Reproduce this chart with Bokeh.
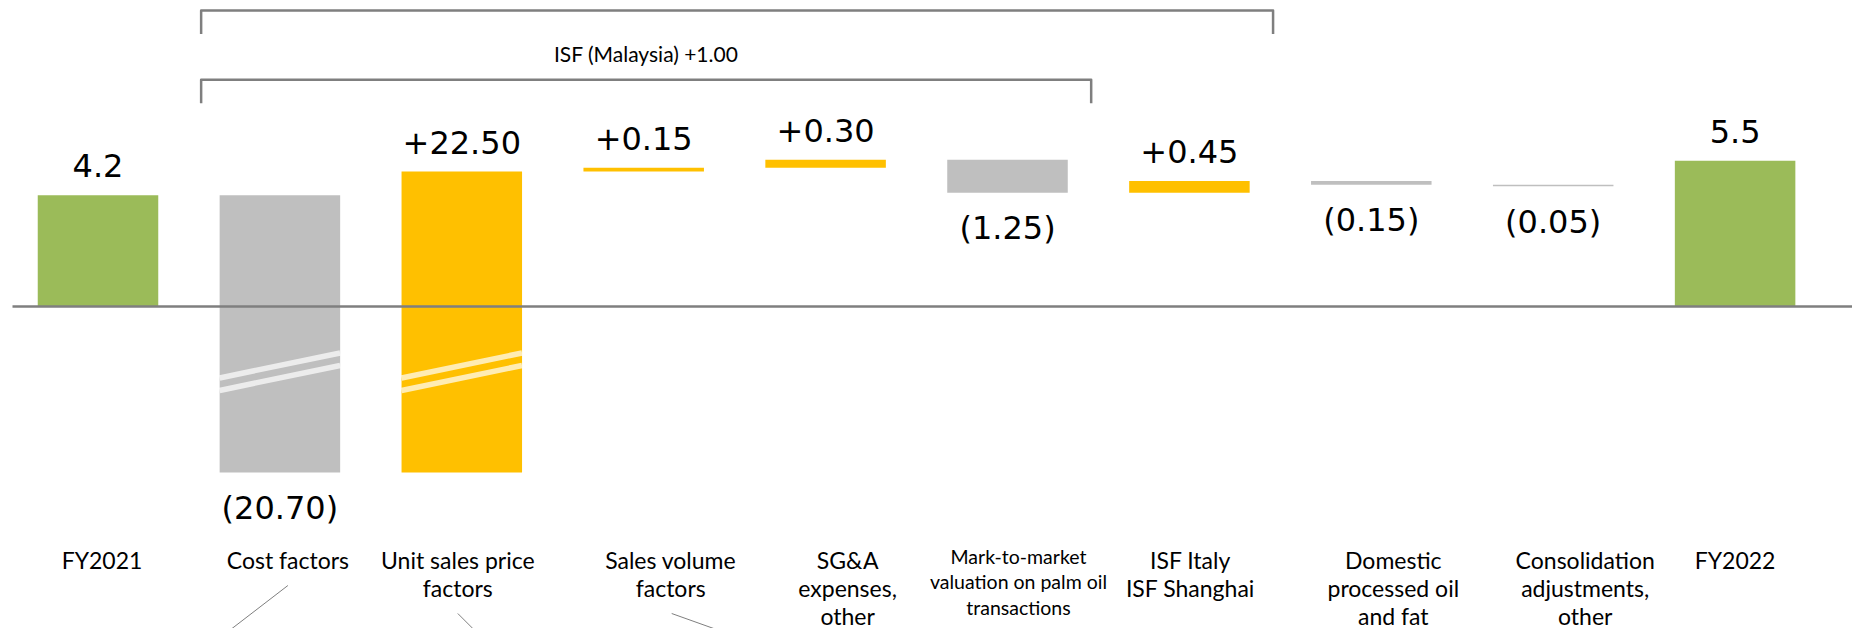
from bokeh.plotting import figure
from bokeh.models import ColumnDataSource, Range1d
from bokeh.embed import file_html
from bokeh.resources import INLINE
from bokeh.core.properties import value

# ---------------- data ----------------
categories = [
    "FY2021",
    "Cost factors",
    "Unit sales price\nfactors",
    "Sales volume\nfactors",
    "SG&A\nexpenses,\nother",
    "Mark-to-market\nvaluation on palm oil\ntransactions",
    "ISF Italy\nISF Shanghai",
    "Domestic\nprocessed oil\nand fat",
    "Consolidation\nadjustments,\nother",
    "FY2022",
]
values = [4.2, -20.70, 22.50, 0.15, 0.30, -1.25, 0.45, -0.15, -0.05, 5.5]
is_total = [True, False, False, False, False, False, False, False, False, True]
bracket_first = [1, 1]
bracket_last = [6, 5]
bracket_labels = ["", "ISF (Malaysia) +1.00"]

# ---------------- layout / style ----------------
W, H = 1852, 628
X0 = 97.5          # px centre of first category
STEP = 181.9       # px between categories
PPU = 26.5         # px per value unit
ZERO_PX = 306      # px of the zero line
BAR_W = 0.6625
hidden = {1: 10.24, 2: 11.15}   # part of the broken bars removed by the axis break
BREAK_V = -2.46
BREAK_GAP_PX = 12.5
BREAK_RISE_PX = 25.0
TEXT_SHIFT = -11.5               # renderer baseline correction (px)
label_dx = [4, 8, -4, 27, 22, 11, 1, 22, 32, 0]
leaders = [(1, 8, 585, -1.30), (2, -4, 613, 1.0), (3, 28, 613, 2.8)]
bracket_top_px = [10, 79.3]
BRACKET_DROP_PX = 23.5
BRACKET_PAD_L, BRACKET_PAD_R = 0.433, 0.46

GREEN, GRAY, YELLOW = "#9BBB59", "#BFBFBF", "#FFC000"
LINE_GRAY = "#7F7F7F"


def px2v(py):
    return (ZERO_PX - py) / PPU


def px2x(dx):
    return dx / STEP


# ---------------- waterfall computation ----------------
xs, bottoms, tops, colors = [], [], [], []
level = 0.0
for i, v in enumerate(values):
    if is_total[i]:
        b, t = 0.0, v
        level = v
        c = GREEN
    else:
        cut = hidden.get(i, 0.0)
        if v >= 0:
            b, t = level, level + v - cut
            level = t
            c = YELLOW
        else:
            b, t = level + v + cut, level
            level = b
            c = GRAY
    xs.append(i)
    bottoms.append(b)
    tops.append(t)
    colors.append(c)

bars = ColumnDataSource(dict(x=xs, bottom=bottoms, top=tops, color=colors))

p = figure(width=W, height=H,
           x_range=Range1d(-X0 / STEP, (W - X0) / STEP),
           y_range=Range1d(px2v(H), px2v(0)),
           output_backend="svg", toolbar_location=None,
           x_axis_type=None, y_axis_type=None, min_border=0)
p.outline_line_color = None
p.background_fill_color = "white"
p.border_fill_color = "white"

p.vbar(x="x", width=BAR_W, bottom="bottom", top="top", fill_color="color",
       line_color=None, source=bars)

# break marks on the broken bars
sx0, sy0, sx1, sy1 = [], [], [], []
half_rise = BREAK_RISE_PX / PPU / 2
for i in hidden:
    for k in (-0.5, 0.5):
        yc = BREAK_V - k * BREAK_GAP_PX / PPU
        sx0.append(i - BAR_W / 2)
        sx1.append(i + BAR_W / 2)
        sy0.append(yc - half_rise)
        sy1.append(yc + half_rise)
p.segment(x0=sx0, y0=sy0, x1=sx1, y1=sy1, line_color="white", line_alpha=0.7,
          line_width=5.5, line_cap="butt")

# zero line
p.segment(x0=[-(X0 - 12) / STEP], y0=[0], x1=[(W - X0) / STEP], y1=[0],
          line_color=LINE_GRAY, line_width=2.7)

# value labels
vl_x, vl_y, vl_t, vl_off = [], [], [], []
for i, v in enumerate(values):
    if is_total[i]:
        txt = f"{v:.1f}"
    elif v >= 0:
        txt = f"+{v:.2f}"
    else:
        txt = f"({abs(v):.2f})"
    vl_x.append(i)
    vl_t.append(txt)
    if is_total[i] or v >= 0:
        vl_y.append(tops[i])
        vl_off.append(-18 + TEXT_SHIFT)
    else:
        vl_y.append(bottoms[i])
        vl_off.append(47 + TEXT_SHIFT)
p.text(x=vl_x, y=vl_y, text=vl_t, y_offset=vl_off, text_align="center",
       text_baseline="alphabetic", text_font=value("DejaVu Sans"),
       text_font_size="32px", text_color="black")

# category labels
for small in (False, True):
    cx, cy, ct, cdx, cdy = [], [], [], [], []
    for i, lab in enumerate(categories):
        lines = lab.split("\n")
        is_small = max(len(s) for s in lines) > 18
        if is_small != small:
            continue
        for j, s in enumerate(lines):
            cx.append(i)
            cy.append(0)
            ct.append(s)
            cdx.append(label_dx[i])
            base = (261 + 25.5 * j) if small else (264.5 + 28 * j)
            cdy.append(base + TEXT_SHIFT)
    p.text(x=cx, y=cy, text=ct, x_offset=cdx, y_offset=cdy, text_align="center",
           text_baseline="alphabetic", text_font=value("Lato"),
           text_font_size="19.5px" if small else "23px", text_color="black")

# leader lines
lx0, ly0, lx1, ly1 = [], [], [], []
for cat, dx, py, slope in leaders:
    lx0.append(cat + px2x(dx))
    ly0.append(px2v(py))
    lx1.append(cat + px2x(dx + slope * (660 - py)))
    ly1.append(px2v(660))
p.segment(x0=lx0, y0=ly0, x1=lx1, y1=ly1, line_color=LINE_GRAY, line_width=1)

# brackets
bxs, bys, blx, bly, blt = [], [], [], [], []
for k in range(len(bracket_first)):
    left = bracket_first[k] - BRACKET_PAD_L
    right = bracket_last[k] + BRACKET_PAD_R
    top = px2v(bracket_top_px[k])
    bot = px2v(bracket_top_px[k] + BRACKET_DROP_PX)
    bxs.append([left, left, right, right])
    bys.append([bot, top, top, bot])
    if bracket_labels[k]:
        blx.append((left + right) / 2)
        bly.append(px2v(bracket_top_px[k] - 17))
        blt.append(bracket_labels[k])
p.multi_line(xs=bxs, ys=bys, line_color=LINE_GRAY, line_width=2.5, line_join="round")
p.text(x=blx, y=bly, text=blt, y_offset=TEXT_SHIFT + 2.5, text_align="center",
       text_baseline="alphabetic", text_font=value("Lato"), text_font_size="21px",
       text_color="black")

open("out.html", "w").write(file_html(p, INLINE))
